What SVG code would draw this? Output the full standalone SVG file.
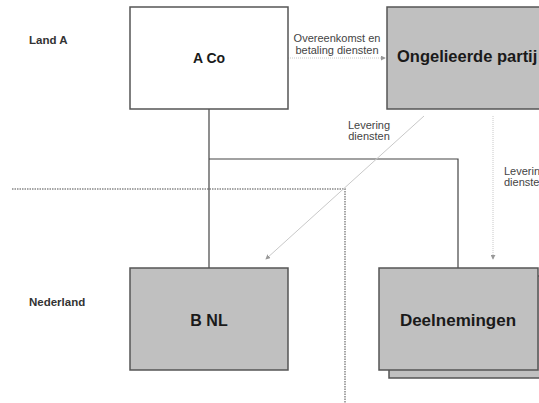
<svg xmlns="http://www.w3.org/2000/svg" width="539" height="403" viewBox="0 0 539 403">
<style>
text{font-family:"Liberation Sans",Arial,sans-serif;fill:#1a1a1a}
.box{stroke:#555;stroke-width:1.5}
.gray{fill:#c0c0c0}
.white{fill:#fff}
.title{font-weight:bold;text-anchor:middle}
.lbl{font-size:11px;fill:#444;text-anchor:middle}
.side{font-size:11.5px;font-weight:bold;fill:#333}
.solid{stroke:#444;stroke-width:1.2;fill:none}
.flow{stroke:#c8c8c8;stroke-width:1;fill:none}
.sep{stroke:#888;stroke-width:1.5;stroke-dasharray:1.5 1;fill:none}
</style>
<defs>
<marker id="arr" viewBox="0 0 6 6" refX="5" refY="3" markerWidth="5" markerHeight="5" orient="auto" markerUnits="userSpaceOnUse">
<path d="M0,0 L6,3 L0,6 z" fill="#999"/>
</marker>
</defs>
<g id="separators">
<path class="sep" d="M12,189 H345 V403"/>
</g>
<g id="labels-side">
<text class="side" x="29" y="44">Land A</text>
<text class="side" x="29" y="306">Nederland</text>
</g>
<g id="connectors">
<path class="solid" d="M209,109 V268"/>
<path class="solid" d="M209,159 H458 V268"/>
<path class="flow" d="M288,58 H385" stroke-dasharray="1 1" marker-end="url(#arr)"/>
<path class="flow" d="M424,116 L266,259" marker-end="url(#arr)"/>
<path class="flow" d="M493,116 V259" stroke-dasharray="1 1" marker-end="url(#arr)"/>
<text class="lbl" x="337" y="42">Overeenkomst en</text>
<text class="lbl" x="337" y="54">betaling diensten</text>
<text class="lbl" x="369" y="129">Levering</text>
<text class="lbl" x="369" y="140">diensten</text>
<text class="lbl" x="504" y="175" style="text-anchor:start">Levering</text>
<text class="lbl" x="504" y="186" style="text-anchor:start">diensten</text>
</g>
<g id="aco">
<rect class="box white" x="130" y="7" width="158" height="102"/>
<text class="title" x="209" y="63" font-size="14">A Co</text>
</g>
<g id="ongelieerde">
<rect class="box gray" x="387" y="7" width="160" height="102"/>
<text x="397" y="62" font-size="16.5" font-weight="bold">Ongelieerde partij</text>
</g>
<g id="bnl">
<rect class="box gray" x="130" y="268" width="158" height="102"/>
<text class="title" x="209" y="326" font-size="16">B NL</text>
</g>
<g id="deelnemingen">
<rect class="box gray" x="389" y="276" width="160" height="102"/>
<rect class="box gray" x="379" y="268" width="159" height="102"/>
<text class="title" x="458" y="326" font-size="17">Deelnemingen</text>
</g>
</svg>
